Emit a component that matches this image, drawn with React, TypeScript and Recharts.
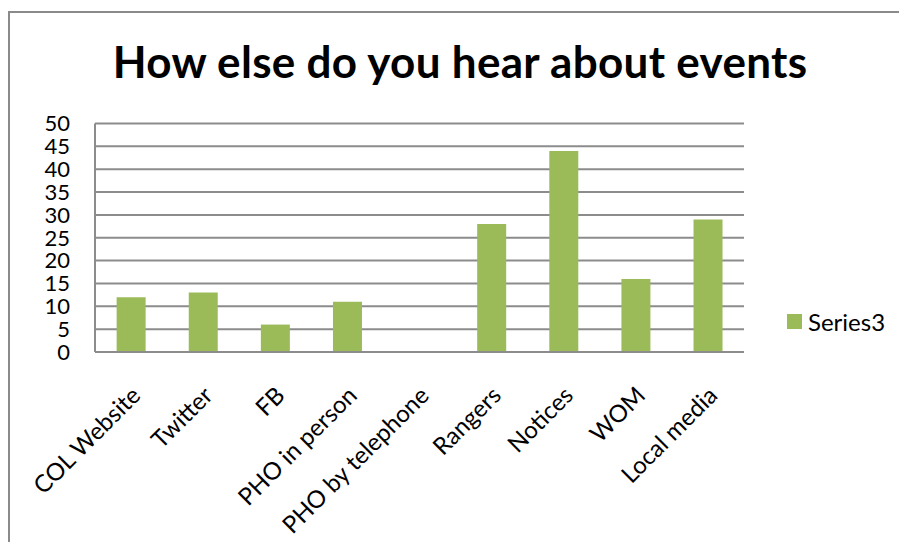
import { BarChart, Bar, XAxis, YAxis, CartesianGrid } from "recharts";

const categories = [
  "COL Website",
  "Twitter",
  "FB",
  "PHO in person",
  "PHO by telephone",
  "Rangers",
  "Notices",
  "WOM",
  "Local media",
];
const series3 = [12, 13, 6, 11, 0, 28, 44, 16, 29];
const yTicks = [0, 5, 10, 15, 20, 25, 30, 35, 40, 45, 50];

const seriesName = "Series3";
const title = "How else do you hear about events";

const data = categories.map((name, i) => ({ name, value: series3[i] }));

const FONT = "Lato, 'Open Sans', sans-serif";
const GREEN = "#9BBB59";
const GRID = "#8c8c8c";

function XTick(props: any) {
  const { x, y, payload } = props;
  const tx = x + 11;
  const ty = y + 37;
  return (
    <text
      x={tx}
      y={ty}
      transform={`rotate(-45 ${tx} ${ty})`}
      textAnchor="end"
      fontSize={24}
      fontFamily={FONT}
      fill="#000"
    >
      {payload.value}
    </text>
  );
}

export default function App() {
  return (
    <div style={{ position: "relative", width: 899, height: 542, background: "#fff", overflow: "hidden" }}>
      <style>{"body{margin:0}"}</style>
      {/* chart border, only top and left visible in the crop */}
      <div
        style={{
          position: "absolute",
          left: 8,
          top: 11,
          width: 1000,
          height: 1000,
          borderTop: "2px solid #8a8a8a",
          borderLeft: "2px solid #8a8a8a",
        }}
      />
      <div
        style={{
          position: "absolute",
          left: 0,
          top: 39,
          width: 920,
          textAlign: "center",
          fontFamily: FONT,
          fontWeight: 700,
          fontSize: 44,
          letterSpacing: 0.3,
          lineHeight: "44px",
          color: "#000",
        }}
      >
        {title}
      </div>
      <div style={{ position: "absolute", left: 0, top: 0 }}>
        <BarChart
          width={899}
          height={542}
          data={data}
          margin={{ top: 123.5, right: 155, left: 0, bottom: 0 }}
          barCategoryGap="30%"
        >
          <CartesianGrid vertical={false} stroke={GRID} strokeWidth={2} />
          <XAxis
            dataKey="name"
            interval={0}
            height={190}
            tickLine={false}
            axisLine={{ stroke: GRID, strokeWidth: 2 }}
            tick={<XTick />}
          />
          <YAxis
            domain={[0, 50]}
            ticks={yTicks}
            interval={0}
            width={95}
            tickLine={false}
            tickSize={0}
            tickMargin={25}
            axisLine={{ stroke: GRID, strokeWidth: 2 }}
            tick={{ fontSize: 22, fill: "#000", fontFamily: FONT }}
          />
          <Bar dataKey="value" name={seriesName} fill={GREEN} isAnimationActive={false} />
        </BarChart>
      </div>
      <div
        style={{
          position: "absolute",
          left: 787,
          top: 307,
          display: "flex",
          alignItems: "center",
          fontFamily: FONT,
          fontSize: 24,
          color: "#000",
        }}
      >
        <span style={{ display: "inline-block", width: 15, height: 15, background: GREEN, marginRight: 6 }} />
        <span>{seriesName}</span>
      </div>
    </div>
  );
}
